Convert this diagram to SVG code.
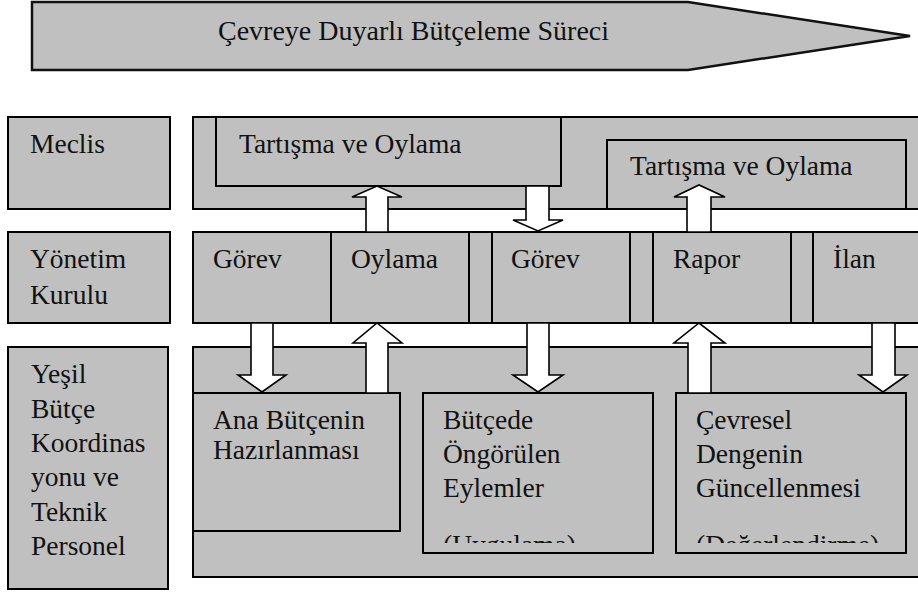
<svg xmlns="http://www.w3.org/2000/svg" width="918" height="592" viewBox="0 0 918 592">
<style>
.box{fill:#c0c0c0;stroke:#000;stroke-width:2}
.ln{stroke:#000;stroke-width:2;fill:none}
.t{font-family:"Liberation Serif","Times New Roman",serif;font-size:27.5px;fill:#111}
.arr{fill:#fff;stroke:#000;stroke-width:1.6;stroke-linejoin:miter}
</style>
<defs>
<clipPath id="c1"><rect x="423" y="393" width="230" height="150"/></clipPath>
<clipPath id="c2"><rect x="676" y="393" width="230" height="150"/></clipPath>
</defs>
<rect width="918" height="592" fill="#fff"/>
<g id="title">
<polygon class="box" points="32,2 688,2 910,36 688,70 32,70" style="stroke:#111;stroke-width:2.5"/>
<text class="t" x="218" y="40" style="font-size:28px">Çevreye Duyarlı Bütçeleme Süreci</text>
</g>
<g id="meclis">
<rect class="box" x="8" y="117" width="162" height="92"/>
<text class="t" x="30" y="153">Meclis</text>
</g>
<g id="yonetim">
<rect class="box" x="8" y="232" width="162" height="91"/>
<text class="t" x="30" y="268">Yönetim</text>
<text class="t" x="30" y="304">Kurulu</text>
</g>
<g id="yesil">
<rect class="box" x="8" y="347" width="160" height="242"/>
<text class="t" x="31" y="383">Yeşil</text>
<text class="t" x="31" y="418">Bütçe</text>
<text class="t" x="31" y="452">Koordinas</text>
<text class="t" x="31" y="486">yonu ve</text>
<text class="t" x="31" y="521">Teknik</text>
<text class="t" x="31" y="555">Personel</text>
</g>
<g id="meclis-lane">
<rect class="box" x="193" y="117" width="740" height="92"/>
</g>
<g id="tartisma1">
<rect class="box" x="216" y="117" width="345" height="69"/>
<text class="t" x="239" y="153">Tartışma ve Oylama</text>
</g>
<g id="tartisma2">
<rect class="box" x="607" y="140" width="299" height="69"/>
<text class="t" x="630" y="175">Tartışma ve Oylama</text>
</g>
<g id="yonetim-lane">
<rect class="box" x="193" y="232" width="740" height="91"/>
<path class="ln" d="M331,232V323M469,232V323M492,232V323M630,232V323M653,232V323M791,232V323M813,232V323"/>
<text class="t" x="213" y="268">Görev</text>
<text class="t" x="351" y="268">Oylama</text>
<text class="t" x="511" y="268">Görev</text>
<text class="t" x="673" y="268">Rapor</text>
<text class="t" x="833" y="268">İlan</text>
</g>
<g id="personel-lane">
<rect class="box" x="193" y="347" width="740" height="230"/>
</g>
<g id="ana">
<rect class="box" x="193" y="393" width="207" height="138"/>
<text class="t" x="213" y="429">Ana Bütçenin</text>
<text class="t" x="213" y="459">Hazırlanması</text>
</g>
<g id="butcede">
<rect class="box" x="423" y="393" width="230" height="160"/>
<text class="t" x="443" y="429">Bütçede</text>
<text class="t" x="443" y="463">Öngörülen</text>
<text class="t" x="443" y="497">Eylemler</text>
<text class="t" x="443" y="554" clip-path="url(#c1)">(Uygulama)</text>
</g>
<g id="cevresel">
<rect class="box" x="676" y="393" width="230" height="160"/>
<text class="t" x="696" y="429">Çevresel</text>
<text class="t" x="696" y="463">Dengenin</text>
<text class="t" x="696" y="497">Güncellenmesi</text>
<text class="t" x="696" y="554" clip-path="url(#c2)">(Değerlendirme)</text>
</g>
<g id="connectors">
<polygon class="arr" points="366,232 366,197 352,197 377,186 402,197 388,197 388,232"/>
<polygon class="arr" points="526,186 549,186 549,220 563,220 538,231 513,220 526,220"/>
<polygon class="arr" points="687,232 687,197 674,197 699,185 725,197 711,197 711,232"/>
<polygon class="arr" points="251,323 273,323 273,375 286,375 262,392 238,375 251,375"/>
<polygon class="arr" points="366,393 366,343 353,343 377,323 402,343 388,343 388,393"/>
<polygon class="arr" points="527,323 549,323 549,375 563,375 538,392 513,375 527,375"/>
<polygon class="arr" points="688,393 688,343 674,343 699,323 725,343 711,343 711,393"/>
<polygon class="arr" points="872,323 895,323 895,375 907,375 883,392 859,375 872,375"/>
</g>
</svg>
